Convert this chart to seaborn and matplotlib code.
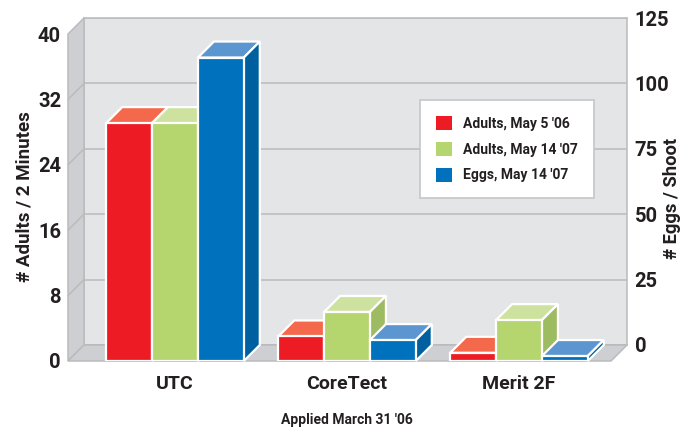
import matplotlib
matplotlib.use('Agg')
import matplotlib.pyplot as plt
from matplotlib.patches import Patch, Polygon
import pandas as pd
import seaborn as sns

# values
products = ['UTC', 'CoreTect', 'Merit 2F']
series_names = ["Adults, May 5 \u203206", "Adults, May 14 \u203207", "Eggs, May 14 \u203207"]
adults_may06 = [29.1, 3.0, 1.0]
adults_may07 = [29.1, 6.0, 5.0]
eggs_may07 = [116, 8, 1.9]      # right hand axis
adult_ticks = [0, 8, 16, 24, 32, 40]
egg_ticks = [0, 25, 50, 75, 100, 125]

front_colors = ['#ed1c24', '#b5d56f', '#0071bc']
top_colors = ['#f4684b', '#cee29f', '#5b96d0']
side_colors = ['#c8171e', '#9dbb61', '#005f9f']
grey_line = '#b9bbbd'

sns.set_style('white')
plt.rcParams['font.family'] = ['Roboto', 'DejaVu Sans']
plt.rcParams['font.weight'] = 'bold'
text_color = '#231f20'

W, H = 693, 429
fig = plt.figure(figsize=(W / 100, H / 100), dpi=100)

# back wall, carries the eggs axis
back = fig.add_axes([84 / W, (H - 345) / H, 543 / W, 327 / H])
back.set_facecolor('#e4e5e7')
back.set_ylim(0, 125)
back.set_xticks([])
back.set_yticks(egg_ticks)
back.yaxis.tick_right()
back.grid(axis='y', color=grey_line, linewidth=1.1)
back.tick_params(axis='y', length=0, pad=5.5, labelsize=14.5, labelcolor=text_color)
for s in back.spines.values():
    s.set_color(grey_line)
    s.set_linewidth(1.1)

# front plane, carries the bars and the adults axis
ax = fig.add_axes([68 / W, (H - 361) / H, 543 / W, 327 / H])
ax.patch.set_alpha(0)

df = pd.DataFrame({
    'product': products * 3,
    'series': [n for n in series_names for _ in products],
    'value': adults_may06 + adults_may07 + [e * 40 / 125 for e in eggs_may07],
})
sns.barplot(data=df, x='product', y='value', hue='series', order=products,
            hue_order=series_names, palette=front_colors, saturation=1,
            width=0.8, edgecolor='white', linewidth=1.6, legend=False, ax=ax)

x_left, x_right = -107 / 172, 2 + 92 / 172
ax.set_xlim(x_left, x_right)
ax.set_ylim(0, 40)
ax.set_xlabel('')
ax.set_ylabel('')
ax.set_yticks(adult_ticks)
ax.tick_params(axis='y', length=0, pad=5, labelsize=14.5, labelcolor=text_color)
ax.tick_params(axis='x', length=0, pad=10, labelsize=14, labelcolor=text_color)
for s in ax.spines.values():
    s.set_visible(False)

# depth of the fake 3d, 16 px each way
dx = 16 / 172
dy = 16 * 40 / 327

# bars left to right, each one with its top and side faces
bars = sorted(ax.patches, key=lambda p: p.get_x())
bars = [b for b in bars if b.get_height() > 0]

# left wall and floor
ax.add_patch(Polygon([(x_left, 0), (x_left, 40), (x_left + dx, 40 + dy), (x_left + dx, dy)],
                     closed=True, facecolor='#cdcfd2', edgecolor=grey_line, linewidth=1.1,
                     clip_on=False, zorder=0.5))
ax.add_patch(Polygon([(x_left, 0), (x_right, 0), (x_right + dx, dy), (x_left + dx, dy)],
                     closed=True, facecolor='#cdcfd2', edgecolor=grey_line, linewidth=1.1,
                     clip_on=False, zorder=0.5))
for t in adult_ticks[1:-1]:
    ax.plot([x_left, x_left + dx], [t, t + dy], color=grey_line, linewidth=1.1,
            clip_on=False, zorder=0.6)

for i, bar in enumerate(bars):
    k = i % 3
    x0, x1 = bar.get_x(), bar.get_x() + bar.get_width()
    h = bar.get_height()
    z = 2 + i
    bar.set_zorder(z + 0.2)
    ax.add_patch(Polygon([(x0, h), (x1, h), (x1 + dx, h + dy), (x0 + dx, h + dy)], closed=True,
                         facecolor=top_colors[k], edgecolor='white', linewidth=1.6,
                         clip_on=False, zorder=z))
    ax.add_patch(Polygon([(x1, 0), (x1, h), (x1 + dx, h + dy), (x1 + dx, dy)], closed=True,
                         facecolor=side_colors[k], edgecolor='white', linewidth=1.6,
                         clip_on=False, zorder=z))

handles = [Patch(facecolor=c, edgecolor='none') for c in front_colors]
leg = ax.legend(handles, series_names, loc='lower left',
                bbox_to_anchor=(420 / W, (H - 198) / H, 174 / W, 96 / H),
                bbox_transform=fig.transFigure, mode='expand', borderaxespad=0,
                fontsize=10, handlelength=1.2, handleheight=1.2, handletextpad=0.75,
                labelspacing=0.8, borderpad=1.12, fancybox=False, framealpha=1,
                edgecolor='#c4c6c8', facecolor='white', labelcolor=text_color)
leg.get_frame().set_linewidth(1.2)
leg.set_zorder(50)

fig.text(25 / W, 1 - 197 / H, '# Adults / 2 Minutes', rotation=90, ha='center', va='center',
         fontsize=13.5, color=text_color)
fig.text(672 / W, 1 - 198 / H, '# Eggs / Shoot', rotation=90, ha='center', va='center',
         fontsize=13.2, color=text_color)
fig.text(347 / W, 1 - 420 / H, 'Applied March 31 \u203206', ha='center', va='center',
         fontsize=10, color=text_color)

fig.savefig('out.png', dpi=100)
